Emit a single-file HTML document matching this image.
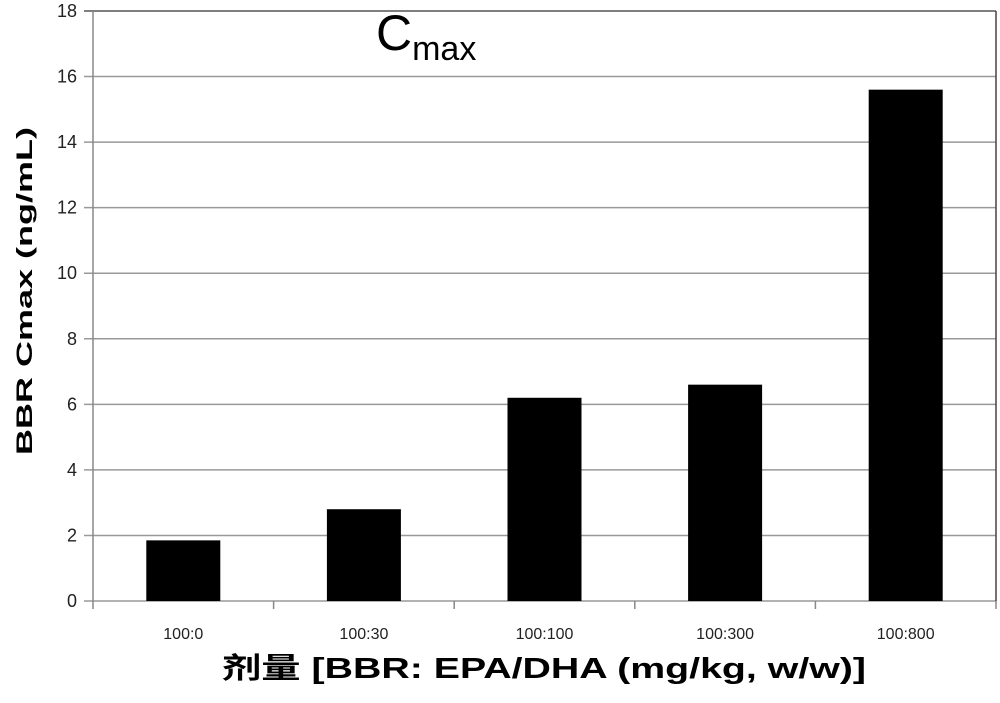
<!DOCTYPE html>
<html><head><meta charset="utf-8"><style>
body{margin:0;background:#fff}
svg{display:block}
text{font-family:"Liberation Sans","Noto Sans CJK SC",sans-serif}
</style></head><body>
<svg id="chart" width="1000" height="703" xmlns="http://www.w3.org/2000/svg">
<g id="grid"></g>
<g id="bars"></g>
<g id="axes"></g>
<text x="376" y="50" font-size="50" fill="#000">C<tspan font-size="34" dy="10">max</tspan></text>
<text transform="translate(32,291) rotate(-90)" text-anchor="middle" font-size="22" font-weight="bold" fill="#000" textLength="328" lengthAdjust="spacingAndGlyphs">BBR Cmax (ng/mL)</text>
<text x="222" y="678" font-size="29" font-weight="bold" fill="#000" textLength="644" lengthAdjust="spacingAndGlyphs">剂量 [BBR: EPA/DHA (mg/kg, w/w)]</text>
</svg>
<script>
const categories = ["100:0","100:30","100:100","100:300","100:800"];
const values = [1.85, 2.8, 6.2, 6.6, 15.6];
const yTicks = [0,2,4,6,8,10,12,14,16,18];
const X0=93, X1=996, Y0=601, Y1=11, YMAX=18;
const ns="http://www.w3.org/2000/svg";
const cw=(X1-X0)/categories.length;
function y(v){return Y0-(v/YMAX)*(Y0-Y1);}
function xc(i){return X0+cw*(i+0.5);}
function mk(tag,attrs,parent){const e=document.createElementNS(ns,tag);for(const k in attrs)e.setAttribute(k,attrs[k]);parent.appendChild(e);return e;}
const grid=document.getElementById('grid'),bars=document.getElementById('bars'),axes=document.getElementById('axes');
yTicks.forEach(t=>{
  const l=mk('line',{x1:84,x2:X1,y1:y(t),y2:y(t),stroke:t===YMAX?'#555':'#999','stroke-width':1.5},grid);
  
  
  const tx=mk('text',{x:77,y:y(t)+6,'text-anchor':'end','font-size':18,fill:'#222'},axes);
  tx.textContent=t;
  
  
});
values.forEach((v,i)=>{
  const r=mk('rect',{x:xc(i)-37,y:y(v),width:74,height:Y0-y(v),fill:'#000'},bars);
  
  
});
const ya=mk('line',{x1:X0,x2:X0,y1:Y1,y2:Y0+8,stroke:'#888','stroke-width':1.5},axes);


const rb=mk('line',{x1:X1,x2:X1,y1:Y1,y2:Y0,stroke:'#444','stroke-width':1.5},axes);


categories.forEach((c,i)=>{
  const tk=mk('line',{x1:X0+cw*(i+1),x2:X0+cw*(i+1),y1:Y0,y2:Y0+8,stroke:'#888','stroke-width':1.5},axes);
  
  
  const tx=mk('text',{x:xc(i),y:639,'text-anchor':'middle','font-size':16,fill:'#222'},axes);
  tx.textContent=c;
  
  
});
</script>
</body></html>
